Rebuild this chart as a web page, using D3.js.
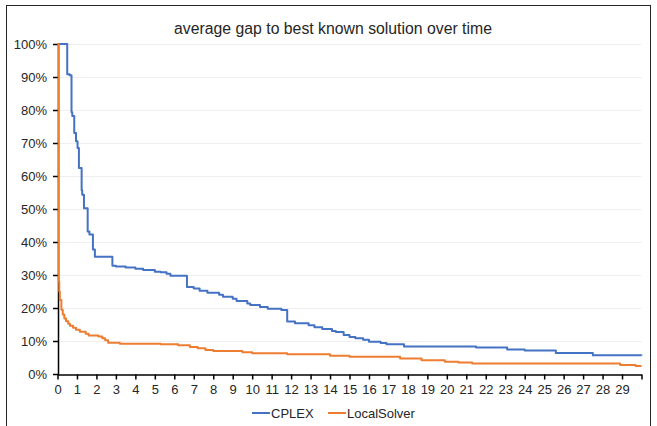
<!DOCTYPE html>
<html>
<head>
<meta charset="utf-8">
<script src="https://cdn.jsdelivr.net/npm/d3@7"></script>
<style>
  html, body { margin: 0; padding: 0; background: #fff; }
  svg { display: block; font-family: "Liberation Sans", Arial, sans-serif; }
</style>
</head>
<body>
<div id="chart"></div>
<script>
/* Average gap to best known solution over time — two step lines. */

var title = "average gap to best known solution over time";
var seriesNames = ["CPLEX", "LocalSolver"];
var seriesColors = ["#4472C4", "#ED7D31"];

// [time, gap %] — each value holds until the next time
var cplex = [
  [0, 100], [0.5, 90.8], [0.62, 90.5], [0.72, 79.3], [0.76, 78.2], [0.86, 73], [0.95, 70.5],
  [1.03, 68.5], [1.1, 62.4], [1.24, 55.7], [1.27, 54.3], [1.36, 50.2], [1.55, 43.2],
  [1.64, 42.3], [1.82, 37.7], [1.92, 35.5], [2.82, 32.8], [3.0, 32.6], [3.5, 32.3],
  [4.0, 31.9], [4.4, 31.5], [5.0, 31.0], [5.3, 30.8], [5.6, 30.4], [5.8, 29.8],
  [6.65, 26.4], [7.0, 25.9], [7.3, 25.2], [7.7, 24.6], [8.3, 24.0], [8.5, 23.4],
  [9.0, 22.8], [9.2, 22.1], [9.75, 21.4], [9.9, 20.9], [10.4, 20.3], [10.8, 19.8],
  [11.5, 19.4], [11.8, 15.9], [12.2, 15.4], [12.9, 14.8], [13.2, 14.2], [13.6, 13.6],
  [14.1, 13.0], [14.3, 12.7], [14.7, 11.8], [15.0, 11.2], [15.3, 10.8], [15.7, 10.4],
  [16.0, 9.8], [16.6, 9.4], [16.9, 9.0], [17.8, 8.3], [21.5, 8.0], [23.1, 7.4],
  [24.0, 7.1], [25.6, 6.4], [27.5, 5.7], [30, 5.6]
];
var localSolver = [
  [0, 100], [0.06, 28], [0.09, 25], [0.12, 22.4], [0.2, 19.5], [0.27, 18.0], [0.35, 16.8],
  [0.44, 16.0], [0.55, 15.2], [0.64, 14.6], [0.8, 14.0], [0.95, 13.4], [1.15, 12.8],
  [1.45, 12.2], [1.6, 11.7], [2.1, 11.4], [2.3, 10.8], [2.45, 10.2], [2.6, 9.5],
  [3.2, 9.2], [5.3, 9.0], [6.2, 8.7], [6.8, 8.2], [7.2, 7.8], [7.6, 7.3], [8.0, 7.0],
  [9.5, 6.6], [10.0, 6.3], [11.8, 6.0], [14.0, 5.5], [15.0, 5.2], [17.6, 4.7],
  [18.7, 4.2], [19.9, 3.7], [20.6, 3.5], [21.3, 3.2], [28.9, 2.7], [29.7, 2.4], [30, 2.4]
];
var xTicks = d3.range(0, 31);          // tick marks 0..30
var xLabels = d3.range(0, 30);         // labels 0..29
var yTicks = d3.range(0, 101, 10);

var width = 657, height = 426;
var margin = { top: 44, right: 15.5, bottom: 52, left: 57.5 };
var innerW = width - margin.left - margin.right;
var innerH = height - margin.top - margin.bottom;
var font = "Liberation Sans, Arial, sans-serif";

var svg = d3.select("#chart").append("svg")
  .attr("width", width).attr("height", height)
  .attr("viewBox", "0 0 " + width + " " + height);

// chart frame
svg.append("rect")
  .attr("x", 6.5).attr("y", 5.5).attr("width", 644).attr("height", 430)
  .attr("fill", "#fff").attr("stroke", "#262626").attr("stroke-width", 1);

svg.append("text")
  .attr("x", 333).attr("y", 34)
  .attr("text-anchor", "middle").attr("font-size", 15.8).attr("fill", "#262626")
  .text(title);

var g = svg.append("g").attr("transform", "translate(" + margin.left + "," + margin.top + ")");

var x = d3.scaleLinear().domain([0, 30]).range([0, innerW]);
var y = d3.scaleLinear().domain([0, 100]).range([innerH, 0]);

/* gridlines */
g.append("g").selectAll("line").data(yTicks.filter(function (v) { return v > 0; })).join("line")
  .attr("x1", 0).attr("x2", innerW)
  .attr("y1", function (v) { return Math.round(y(v)) + 0.5; })
  .attr("y2", function (v) { return Math.round(y(v)) + 0.5; })
  .attr("stroke", "#efefef").attr("stroke-width", 1);

/* axes */
var yAxis = g.append("g").attr("transform", "translate(0.5,0)")
  .call(d3.axisLeft(y).tickValues(yTicks).tickSize(5).tickSizeOuter(0)
    .tickFormat(function (v) { return v + "%"; }));
yAxis.select(".domain").attr("stroke", "#000").attr("stroke-width", 1.5);
yAxis.selectAll(".tick line").attr("stroke", "#000").attr("stroke-width", 1.5);
yAxis.selectAll(".tick text").attr("x", -11).attr("font-size", 13).attr("fill", "#262626")
  .attr("font-family", font);

var xAxis = g.append("g").attr("transform", "translate(0," + (innerH + 0.5) + ")")
  .call(d3.axisBottom(x).tickValues(xTicks).tickSize(5).tickSizeOuter(0)
    .tickFormat(function (v) { return xLabels.indexOf(v) >= 0 ? String(v) : ""; }));
xAxis.select(".domain").attr("stroke", "#000").attr("stroke-width", 1.5);
xAxis.selectAll(".tick line").attr("stroke", "#000").attr("stroke-width", 1.5);
xAxis.selectAll(".tick text").attr("y", 10).attr("font-size", 13).attr("fill", "#262626")
  .attr("font-family", font);

/* lines, drawn over the axes */
var line = d3.line()
  .x(function (d) { return x(d[0]); })
  .y(function (d) { return y(d[1]); })
  .curve(d3.curveStepAfter);

[cplex, localSolver].forEach(function (s, i) {
  g.append("path").datum(s)
    .attr("fill", "none").attr("stroke", seriesColors[i]).attr("stroke-width", 2)
    .attr("stroke-linejoin", "round")
    .attr("d", line);
});

/* legend */
var legendItems = [{ x: 252, name: seriesNames[0] }, { x: 328, name: seriesNames[1] }];
legendItems.forEach(function (d, i) {
  svg.append("line")
    .attr("x1", d.x).attr("x2", d.x + 18).attr("y1", 413).attr("y2", 413)
    .attr("stroke", seriesColors[i]).attr("stroke-width", 2);
  svg.append("text")
    .attr("x", d.x + 19).attr("y", 417.5)
    .attr("font-size", 13).attr("fill", "#262626")
    .text(d.name);
});
</script>
</body>
</html>
